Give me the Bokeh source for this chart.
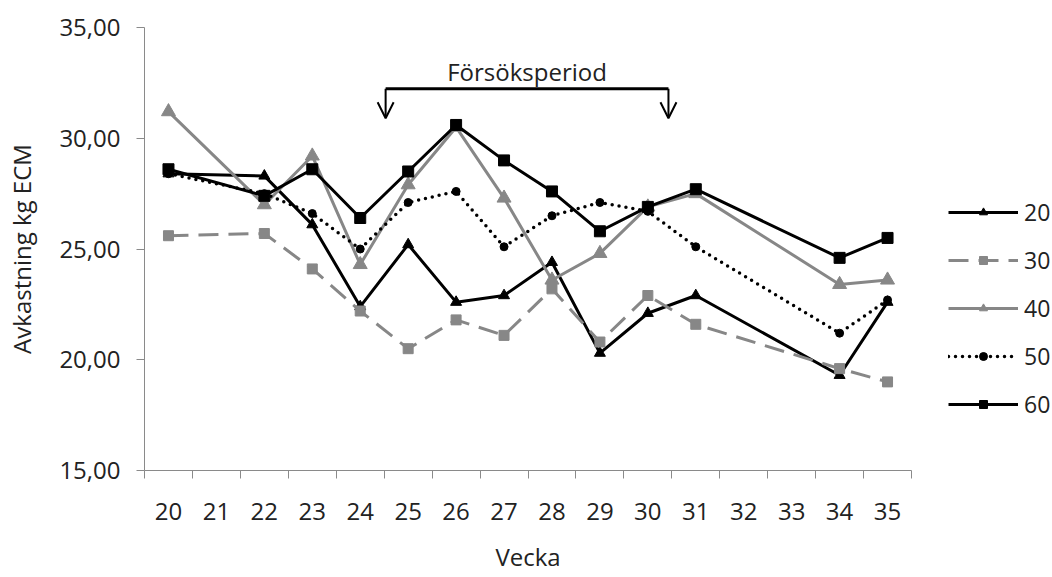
from bokeh.plotting import figure
from bokeh.layouts import row
from bokeh.models import (Range1d, FixedTicker, CustomJSTickFormatter, Legend, LegendItem,
                          Arrow, OpenHead, Label)
from bokeh.embed import file_html
from bokeh.resources import INLINE

# ---- data ----
week_labels = [str(w) for w in range(20, 36)]
weeks = [20, 22, 23, 24, 25, 26, 27, 28, 29, 30, 31, 34, 35]
s20 = [28.4, 28.3, 26.1, 22.4, 25.2, 22.6, 22.9, 24.4, 20.3, 22.1, 22.9, 19.3, 22.6]
s30 = [25.6, 25.7, 24.1, 22.2, 20.5, 21.8, 21.1, 23.2, 20.8, 22.9, 21.6, 19.6, 19.0]
s40 = [31.2, 27.0, 29.2, 24.3, 27.9, 30.5, 27.3, 23.6, 24.8, 26.9, 27.5, 23.4, 23.6]
s50 = [28.4, 27.5, 26.6, 25.0, 27.1, 27.6, 25.1, 26.5, 27.1, 26.7, 25.1, 21.2, 22.7]
s60 = [28.6, 27.4, 28.6, 26.4, 28.5, 30.6, 29.0, 27.6, 25.8, 26.9, 27.7, 24.6, 25.5]
series_names = ["20", "30", "40", "50", "60"]
y_ticks = [15, 20, 25, 30, 35]

period_start = 24.53
period_end = 30.43
bracket_y = 32.23
arrow_tip_y = 30.9
period_text = "Försöksperiod"

FONT = "Open Sans"
FS = "24px"
BLACK = "#000000"
GREY = "#878787"
AXIS_GREY = "#8a8a8a"
TXT = "#222222"

styles = [
    dict(color=BLACK, dash="solid", lw=3, marker="triangle", size=11),
    dict(color=GREY, dash="20 10", lw=3, marker="square", size=10),
    dict(color=GREY, dash="solid", lw=3, marker="triangle", size=14),
    dict(color=BLACK, dash="0 7", lw=3.5, marker="circle", size=8),
    dict(color=BLACK, dash="solid", lw=3, marker="square", size=11),
]
series = [s20, s30, s40, s50, s60]

p = figure(width=930, height=577, output_backend="svg", toolbar_location=None,
           x_range=Range1d(19.5, 35.5), y_range=Range1d(15, 35),
           min_border_left=144, min_border_right=19, min_border_top=27, min_border_bottom=107)
p.outline_line_color = None
p.xgrid.visible = False
p.ygrid.visible = False
p.background_fill_color = "white"
p.border_fill_color = "white"

# axes
xa = p.xaxis[0]
xa.ticker = FixedTicker(ticks=list(range(20, 36)),
                        minor_ticks=[w - 0.5 for w in range(20, 37)])
xa.major_label_overrides = {w: lab for w, lab in zip(range(20, 36), week_labels)}
xa.major_tick_line_color = None
xa.major_tick_out = 0
xa.major_tick_in = 0
xa.minor_tick_out = 8
xa.minor_tick_in = 0
xa.minor_tick_line_color = AXIS_GREY
xa.axis_line_color = AXIS_GREY
xa.major_label_standoff = 24
xa.major_label_text_font = FONT
xa.major_label_text_font_size = FS
xa.major_label_text_color = TXT
xa.axis_label = "Vecka"
xa.axis_label_text_font = FONT
xa.axis_label_text_font_size = FS
xa.axis_label_text_font_style = "normal"
xa.axis_label_text_color = TXT
xa.axis_label_standoff = 17

ya = p.yaxis[0]
ya.ticker = FixedTicker(ticks=y_ticks)
ya.formatter = CustomJSTickFormatter(code="return tick.toFixed(2).replace('.', ',');")
ya.major_tick_out = 8
ya.major_tick_in = 0
ya.minor_tick_line_color = None
ya.major_tick_line_color = AXIS_GREY
ya.axis_line_color = AXIS_GREY
ya.major_label_standoff = 16
ya.major_label_text_font = FONT
ya.major_label_text_font_size = FS
ya.major_label_text_color = TXT
ya.axis_label = "Avkastning kg ECM"
ya.axis_label_text_font = FONT
ya.axis_label_text_font_size = FS
ya.axis_label_text_font_style = "normal"
ya.axis_label_text_color = TXT
ya.axis_label_standoff = 18

# series in main plot
for vals, st in zip(series, styles):
    p.line(weeks, vals, line_color=st["color"], line_width=st["lw"], line_dash=st["dash"],
           line_cap="round" if st["dash"] == "0 7" else "butt")
    p.scatter(weeks, vals, marker=st["marker"], size=st["size"],
              fill_color=st["color"], line_color=st["color"])

# Försöksperiod bracket
p.segment(x0=[period_start], y0=[bracket_y], x1=[period_end], y1=[bracket_y],
          line_color=BLACK, line_width=3)
for xx in (period_start, period_end):
    p.add_layout(Arrow(end=OpenHead(size=16, line_width=2, line_color=BLACK),
                       x_start=xx, y_start=bracket_y, x_end=xx, y_end=arrow_tip_y,
                       line_color=BLACK, line_width=2))
p.add_layout(Label(x=(period_start + period_end) / 2, y=33.03, text=period_text,
                   text_align="center", text_baseline="middle", text_font=FONT,
                   text_font_size=FS, text_color=TXT))

# legend panel (same series, drawn outside its view so only the legend shows)
q = figure(width=122, height=577, output_backend="svg", toolbar_location=None,
           x_axis_type=None, y_axis_type=None, min_border=0,
           x_range=Range1d(0, 1), y_range=Range1d(0, 1))
q.outline_line_color = None
q.xgrid.visible = False
q.ygrid.visible = False
items = []
for name, vals, st in zip(series_names, series, styles):
    rl = q.line(weeks, vals, line_color=st["color"], line_width=st["lw"], line_dash=st["dash"],
                line_cap="round" if st["dash"] == "0 7" else "butt")
    rm = q.scatter(weeks, vals, marker=st["marker"], size=st["size"],
                   fill_color=st["color"], line_color=st["color"])
    items.append(LegendItem(label=name, renderers=[rl, rm]))
legend = Legend(items=items, location=(18, 50), glyph_width=70, glyph_height=20,
                label_height=20, spacing=16, padding=0, margin=0, label_standoff=6,
                border_line_color=None, background_fill_alpha=0,
                label_text_font=FONT, label_text_font_size="23px", label_text_color=TXT)
q.add_layout(legend)

layout = row(p, q, spacing=0)
open("out.html", "w").write(file_html(layout, INLINE))
